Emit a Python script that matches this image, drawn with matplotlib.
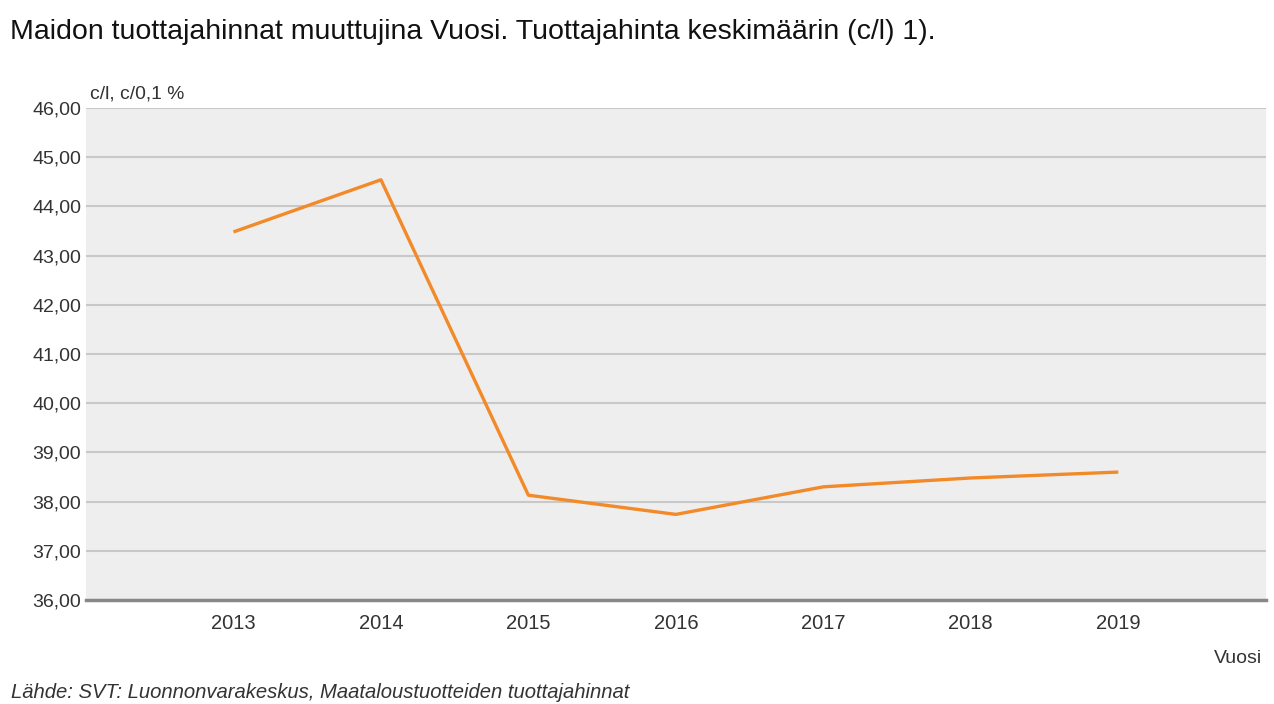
import matplotlib
matplotlib.use("Agg")
import matplotlib.pyplot as plt
from matplotlib.ticker import FuncFormatter

years = [2013, 2014, 2015, 2016, 2017, 2018, 2019]
price = [43.48, 44.54, 38.13, 37.74, 38.30, 38.48, 38.60]
y_ticks = [36, 37, 38, 39, 40, 41, 42, 43, 44, 45, 46]

plt.rcParams['font.family'] = ['Liberation Sans', 'DejaVu Sans']

fig = plt.figure(figsize=(12.74, 7.04), dpi=100)
ax = fig.add_axes([0.0675, 0.1477, 0.926, 0.699])
ax.set_facecolor('#eeeeee')

ax.plot(years, price, color='#f28a2a', linewidth=2.4, solid_capstyle='butt')

ax.set_xlim(2012, 2020)
ax.set_ylim(36, 46)
ax.set_yticks(y_ticks)
ax.set_xticks(years)
ax.yaxis.set_major_formatter(FuncFormatter(lambda v, p: ('%.2f' % v).replace('.', ',')))

ax.grid(axis='y', color='#c8c8c8', linewidth=1.5)
ax.set_axisbelow(True)
for s in ['top', 'right', 'left']:
    ax.spines[s].set_visible(False)
ax.spines['bottom'].set_color('#888888')
ax.spines['bottom'].set_linewidth(2.5)

ax.tick_params(axis='y', length=0, labelsize=14, labelcolor='#333333', pad=3.5)
ax.tick_params(axis='x', length=0, labelsize=14.5, labelcolor='#333333', pad=10)

fig.text(0.008, 0.955, 'Maidon tuottajahinnat muuttujina Vuosi. Tuottajahinta keskimäärin (c/l) 1).',
         fontsize=20.5, color='#111111', ha='left', va='center')
fig.text(0.0705, 0.866, 'c/l, c/0,1 %', fontsize=13.9, color='#333333', ha='left', va='center')
fig.text(0.991, 0.064, 'Vuosi', fontsize=14, color='#333333', ha='right', va='center')
fig.text(0.009, 0.017, 'Lähde: SVT: Luonnonvarakeskus, Maataloustuotteiden tuottajahinnat',
         fontsize=14.6, style='italic', color='#333333', ha='left', va='center')

fig.savefig('out.png', dpi=100)
